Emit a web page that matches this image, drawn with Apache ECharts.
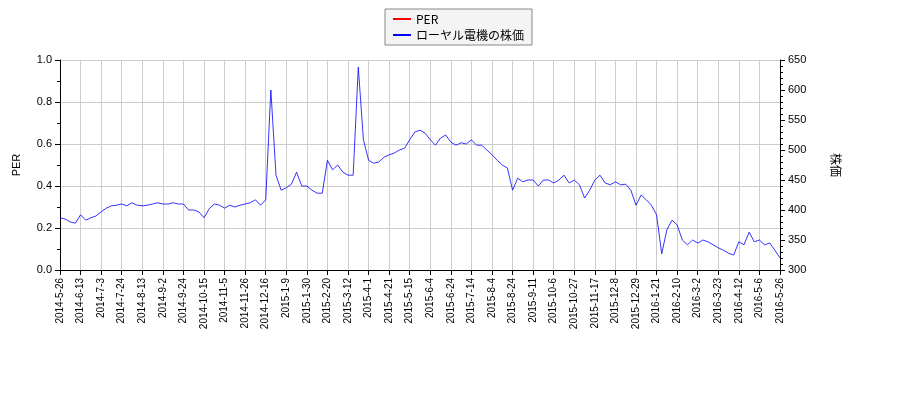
<!DOCTYPE html>
<html>
  <head>
    <meta charset="utf-8" />
    <script src="https://cdn.jsdelivr.net/npm/echarts@6/dist/echarts.min.js"></script>
    <style>
      * { margin: 0; padding: 0; }
    </style>
  </head>
  <body>
    <div id="main" style="width: 900px; height: 400px"></div>
    <script type="text/javascript">
      const dateLabels = [
        "2014-5-26","2014-6-13","2014-7-3","2014-7-24","2014-8-13","2014-9-2","2014-9-24","2014-10-15",
        "2014-11-5","2014-11-26","2014-12-16","2015-1-9","2015-1-30","2015-2-20","2015-3-12","2015-4-1",
        "2015-4-21","2015-5-15","2015-6-4","2015-6-24","2015-7-14","2015-8-4","2015-8-24","2015-9-11",
        "2015-10-6","2015-10-27","2015-11-17","2015-12-8","2015-12-29","2016-1-21","2016-2-10","2016-3-2",
        "2016-3-23","2016-4-12","2016-5-6","2016-5-26"
      ];
      // 4 samples per label interval
      const price = [
        387,385,380,378, 392,383,387,390, 397,403,407,408, 410,407,412,408,
        407,408,410,412, 410,410,412,410, 410,400,400,397, 387,402,410,408,
        403,408,405,408, 410,412,417,408, 417,600,458,433, 437,443,463,440,
        440,433,428,428, 483,467,475,463, 458,458,638,517, 483,478,480,488,
        492,495,500,503, 517,530,533,528, 517,508,520,525, 513,508,512,510,
        517,508,508,500, 492,483,475,470, 433,453,447,450, 450,440,450,450,
        445,450,458,445, 450,442,420,433, 450,458,445,442, 447,442,443,433,
        408,425,417,408, 392,327,367,383, 375,350,342,350, 345,350,347,342,
        337,333,328,325, 347,342,363,347, 350,342,345,333, 320
      ];
      const per = [];

      const cats = price.map((_, i) => String(i));

      const chart = echarts.init(document.getElementById("main"));
      chart.setOption({
        animation: false,
        legend: {
          top: 9,
          left: 385,
          orient: "vertical",
          borderColor: "#888",
          borderWidth: 1,
          borderRadius: 0,
          backgroundColor: "#f4f4f4",
          padding: [4, 8],
          itemGap: 4,
          itemWidth: 18,
          itemHeight: 2,
          textStyle: { fontSize: 12, color: "#000", fontFamily: "Noto Sans CJK JP" },
          data: [
            { name: "PER", icon: "rect" },
            { name: "ローヤル電機の株価", icon: "rect" },
          ],
        },
        grid: { left: 60, right: 120, top: 60, bottom: 130 },
        xAxis: {
          type: "category",
          data: cats,
          boundaryGap: false,
          axisLine: { lineStyle: { color: "#000" } },
          axisTick: { interval: 3, lineStyle: { color: "#000" } },
          axisLabel: {
            interval: 3,
            rotate: 90,
            fontSize: 10,
            color: "#000",
            formatter: (v, i) => dateLabels[Number(v) / 4] || "",
          },
          splitLine: { show: true, interval: 3, lineStyle: { color: "#ccc" } },
        },
        yAxis: [
          {
            type: "value",
            min: 0, max: 1, interval: 0.2,
            name: "PER",
            nameLocation: "middle",
            nameGap: 38,
            nameTextStyle: { color: "#000", fontSize: 11 },
            axisLine: { show: true, lineStyle: { color: "#000" } },
            axisTick: { show: true },
            minorTick: { show: true, splitNumber: 2 },
            axisLabel: { color: "#000", fontSize: 11, formatter: (v) => v.toFixed(1) },
            splitLine: { lineStyle: { color: "#ccc" } },
          },
          {
            type: "value",
            min: 300, max: 650, interval: 50,
            name: "株価",
            nameLocation: "middle",
            nameGap: 50,
            nameRotate: -90,
            nameTextStyle: { color: "#000", fontSize: 12, fontFamily: "Noto Sans CJK JP" },
            axisLine: { show: true, lineStyle: { color: "#000" } },
            axisTick: { show: true },
            minorTick: { show: true, splitNumber: 5 },
            axisLabel: { color: "#000", fontSize: 11 },
            splitLine: { show: false },
          },
        ],
        series: [
          { name: "PER", type: "line", data: per, color: "#ff0000", symbol: "none" },
          {
            name: "ローヤル電機の株価",
            type: "line",
            yAxisIndex: 1,
            data: price,
            color: "#0000ff",
            symbol: "none",
            lineStyle: { width: 0.8 },
          },
        ],
      });
    </script>
  </body>
</html>
